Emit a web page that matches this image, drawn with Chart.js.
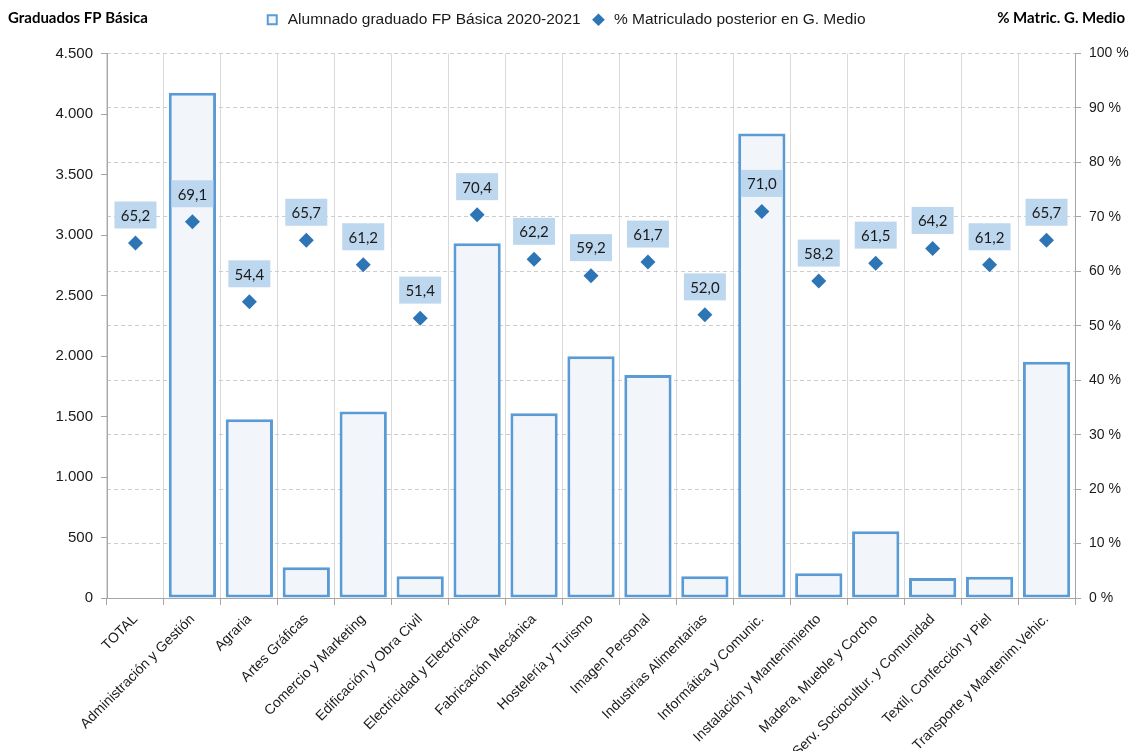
<!DOCTYPE html>
<html>
<head>
<meta charset="utf-8">
<script src="https://cdn.jsdelivr.net/npm/chart.js@4.4.0/dist/chart.umd.min.js"></script>
<style>
    html, body {
        margin: 0;
        padding: 0;
        background: #ffffff;
    }

    #wrap {
        width: 1130px;
        height: 751px;
        position: relative;
    }
</style>
</head>
<body>
<div id="wrap">
    <canvas id="fpChart" width="1130" height="751"></canvas>
</div>
<script>

const categories = [
    "TOTAL",
    "Administración y Gestión",
    "Agraria",
    "Artes Gráficas",
    "Comercio y Marketing",
    "Edificación y Obra Civil",
    "Electricidad y Electrónica",
    "Fabricación Mecánica",
    "Hostelería y Turismo",
    "Imagen Personal",
    "Industrias Alimentarias",
    "Informática y Comunic.",
    "Instalación y Mantenimiento",
    "Madera, Mueble y Corcho",
    "Serv. Sociocultur. y Comunidad",
    "Textil, Confección y Piel",
    "Transporte y Mantenim.Vehic."
];

const graduados = [
    null, 4175, 1478, 255, 1542, 180, 2932, 1527,
    1997, 1842, 180, 3838, 205, 552, 165, 175, 1952
];

const pctMatric = [
    65.2, 69.1, 54.4, 65.7, 61.2, 51.4, 70.4, 62.2,
    59.2, 61.7, 52.0, 71.0, 58.2, 61.5, 64.2, 61.2, 65.7
];

const leftTicks = [0, 500, 1000, 1500, 2000, 2500, 3000, 3500, 4000, 4500];
const rightTicks = [0, 10, 20, 30, 40, 50, 60, 70, 80, 90, 100];

const SANS = "Arial, 'Liberation Sans', sans-serif";
const LABEL_FONT = "Lato, 'Open Sans', sans-serif";

function formatThousands(value) {
    const s = String(Math.round(value));
    return s.replace(/\B(?=(\d{3})+(?!\d))/g, ".");
}

// hueco bajo la leyenda para bajar el area del grafico
const legendGap = {
    id: "legendGap",
    beforeInit(chart) {
        const originalFit = chart.legend.fit;
        chart.legend.fit = function fit() {
            originalFit.bind(chart.legend)();
            this.height += 16;
        };
    }
};

// etiquetas de los rombos, caja azul clara encima del punto
const pointLabels = {
    id: "pointLabels",
    afterDatasetsDraw(chart) {
        const ctx = chart.ctx;
        const meta = chart.getDatasetMeta(1);
        ctx.save();
        ctx.font = "15px " + LABEL_FONT;
        ctx.textAlign = "center";
        ctx.textBaseline = "middle";
        meta.data.forEach((pt, i) => {
            const text = pctMatric[i].toFixed(1).replace(".", ",");
            const cx = pt.x;
            const cy = pt.y - 28;
            const w = 42;
            const h = 27;
            ctx.fillStyle = "#bdd7ee";
            ctx.fillRect(cx - w / 2, cy - h / 2, w, h);
            ctx.fillStyle = "#1a1a1a";
            ctx.fillText(text, cx, cy + 1);
        });
        ctx.restore();
    }
};

// titulos de los ejes arriba a cada lado
const axisTitles = {
    id: "axisTitles",
    afterDraw(chart) {
        const ctx = chart.ctx;
        ctx.save();
        ctx.font = "bold 15px " + LABEL_FONT;
        ctx.fillStyle = "#000000";
        ctx.textBaseline = "middle";
        ctx.textAlign = "left";
        ctx.fillText("Graduados FP Básica", 8, 18);
        ctx.textAlign = "right";
        ctx.fillText("% Matric. G. Medio", 1125, 18);
        ctx.restore();
    }
};

const ctx = document.getElementById("fpChart");

new Chart(ctx, {

    type: "bar",

    data: {

        labels: categories,

        datasets: [
            {
                type: "bar",
                label: "Alumnado graduado FP Básica 2020-2021",
                data: graduados,
                yAxisID: "y",
                backgroundColor: "#f2f6fb",
                borderColor: "#5b9bd5",
                borderWidth: 3,
                borderSkipped: false,
                barPercentage: 0.83,
                categoryPercentage: 1,
                pointStyle: "rect",
                order: 2
            },
            {
                type: "line",
                label: "% Matriculado posterior en G. Medio",
                data: pctMatric,
                yAxisID: "y2",
                showLine: false,
                pointStyle: "rectRot",
                pointRadius: 7.5,
                pointHoverRadius: 7.5,
                pointBackgroundColor: "#2e75b6",
                pointBorderColor: "#2e75b6",
                pointBorderWidth: 0,
                backgroundColor: "#2e75b6",
                borderColor: "#2e75b6",
                order: 1
            }
        ]

    },

    options: {
        responsive: false,
        animation: false,
        events: [],
        layout: {
            padding: { top: 2, left: 0, right: 0, bottom: 0 }
        },
        plugins: {
            legend: {
                display: true,
                position: "top",
                labels: {
                    font: { family: SANS, size: 15.5 },
                    color: "#1a1a1a",
                    usePointStyle: true,
                    boxHeight: 9,
                    padding: 10,
                    generateLabels(chart) {
                        return chart.data.datasets.map((ds, i) => ({
                            text: ds.label,
                            fillStyle: i === 0 ? "#f2f6fb" : "#2e75b6",
                            strokeStyle: i === 0 ? "#5b9bd5" : "#2e75b6",
                            lineWidth: i === 0 ? 2 : 0,
                            pointStyle: ds.pointStyle,
                            fontColor: "#1a1a1a",
                            datasetIndex: i,
                            hidden: false
                        }));
                    }
                }
            },
            tooltip: { enabled: false }
        },
        scales: {
            x: {
                offset: true,
                grid: {
                    offset: true,
                    color: "#d9d9d9",
                    tickColor: "#a6a6a6",
                    tickLength: 7,
                    lineWidth: 1
                },
                border: { color: "#a6a6a6", width: 1 },
                ticks: {
                    minRotation: 45,
                    maxRotation: 45,
                    autoSkip: false,
                    padding: 6,
                    color: "#1a1a1a",
                    font: { family: SANS, size: 14 }
                },
                afterFit(scale) {
                    scale.height = 153;
                }
            },
            y: {
                position: "left",
                min: 0,
                max: 4500,
                afterBuildTicks(scale) {
                    scale.ticks = leftTicks.map(v => ({ value: v }));
                },
                grid: {
                    drawOnChartArea: false,
                    color: "#a6a6a6",
                    tickLength: 6
                },
                border: { color: "#a6a6a6", width: 1 },
                ticks: {
                    padding: 8,
                    color: "#1a1a1a",
                    font: { family: SANS, size: 15 },
                    callback: value => formatThousands(value)
                },
                afterFit(scale) {
                    scale.width = 107;
                }
            },
            y2: {
                position: "right",
                min: 0,
                max: 100,
                afterBuildTicks(scale) {
                    scale.ticks = rightTicks.map(v => ({ value: v }));
                },
                grid: {
                    drawOnChartArea: true,
                    color: "#cdcdcd",
                    tickColor: "#a6a6a6",
                    tickLength: 6,
                    tickBorderDash: []
                },
                border: { color: "#a6a6a6", width: 1, dash: [4, 3] },
                ticks: {
                    padding: 8,
                    color: "#1a1a1a",
                    font: { family: SANS, size: 14 },
                    callback: value => value + " %"
                },
                afterFit(scale) {
                    scale.width = 55;
                }
            }
        }
    },

    plugins: [legendGap, pointLabels, axisTitles]

});

</script>
</body>
</html>
